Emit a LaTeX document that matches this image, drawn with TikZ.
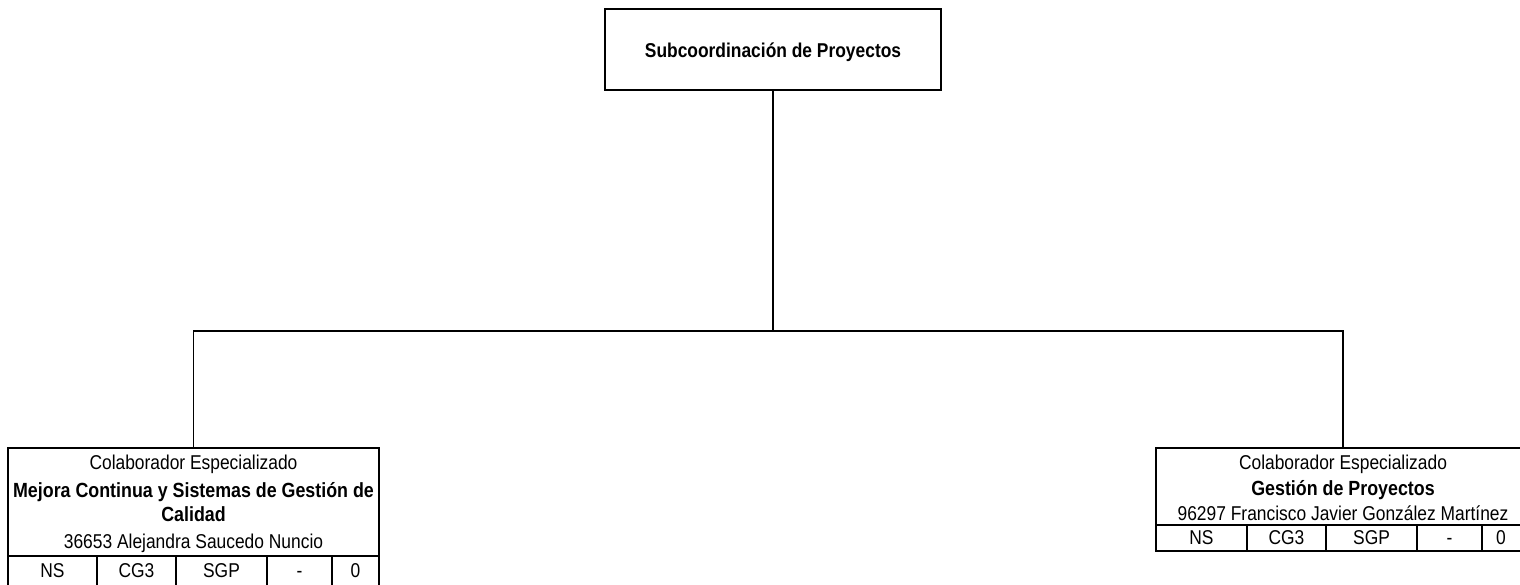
\documentclass[tikz,border=0pt]{standalone}
\usepackage{fontspec}
\setmainfont[FakeStretch=0.87]{Liberation Sans}
\begin{document}
\begin{tikzpicture}[x=1pt,y=-1pt,
  box/.style={draw=black,line width=1.8pt,rectangle,inner sep=0pt,fill=none},
  conn/.style={draw=black,line width=1.4pt},
  grid/.style={draw=black,line width=1.6pt},
  txt/.style={inner sep=0pt,anchor=base,font=\fontsize{20}{22}\selectfont},
  btxt/.style={inner sep=0pt,anchor=base,font=\fontsize{20.5}{22}\selectfont\bfseries},
  ttl/.style={inner sep=0pt,anchor=base,font=\fontsize{20}{22}\selectfont\bfseries}]
\useasboundingbox (0,0) rectangle (1520,584);
\fill[white] (0,0) rectangle (1520,584);
% top box
\node[box,minimum width=336pt,minimum height=81pt] (top) at (773,49.5) {};
\node[ttl] (toptxt) at (773,57) {Subcoordinación de Proyectos};
% left box
\node[box,minimum width=371pt,minimum height=150pt,anchor=north] (L) at (193.5,447) {};
% right box
\node[box,minimum width=374pt,minimum height=103pt,anchor=north] (R) at (1343,447) {};
% connectors
\coordinate (bus) at (773,331);
\draw[conn] (top.south) -- (bus);
\draw[conn] (L.north) |- (bus) -| (R.north);
% left texts
\node[txt] (l1) at (193.5,469) {Colaborador Especializado};
\node[btxt] (l2) at (193.5,497) {Mejora Continua y Sistemas de Gestión de};
\node[btxt] (l3) at (193.5,521) {Calidad};
\node[txt] (l4) at (193.5,548) {36653 Alejandra Saucedo Nuncio};
\draw[grid] (8,556) -- (379,556);
\foreach \x in {97,176,267,332} \draw[grid] (\x,556) -- (\x,600);
\node[txt] (lc1) at (52.5,577) {NS};
\node[txt] (lc2) at (136.5,577) {CG3};
\node[txt] (lc3) at (221.5,577) {SGP};
\node[txt] (lc4) at (299.5,577) {-};
\node[txt] (lc5) at (355.5,577) {0};
% right texts
\node[txt] (r1) at (1343,469) {Colaborador Especializado};
\node[btxt] (r2) at (1343,495) {Gestión de Proyectos};
\node[txt] (r3) at (1343,520) {96297 Francisco Javier González Martínez};
\draw[grid] (1156,525) -- (1530,525);
\foreach \x in {1247,1326,1417,1482} \draw[grid] (\x,525) -- (\x,550);
\node[txt] (rc1) at (1201.5,544) {NS};
\node[txt] (rc2) at (1286.5,544) {CG3};
\node[txt] (rc3) at (1371.5,544) {SGP};
\node[txt] (rc4) at (1449.5,544) {-};
\node[txt] (rc5) at (1501,544) {0};
\end{tikzpicture}
\end{document}
